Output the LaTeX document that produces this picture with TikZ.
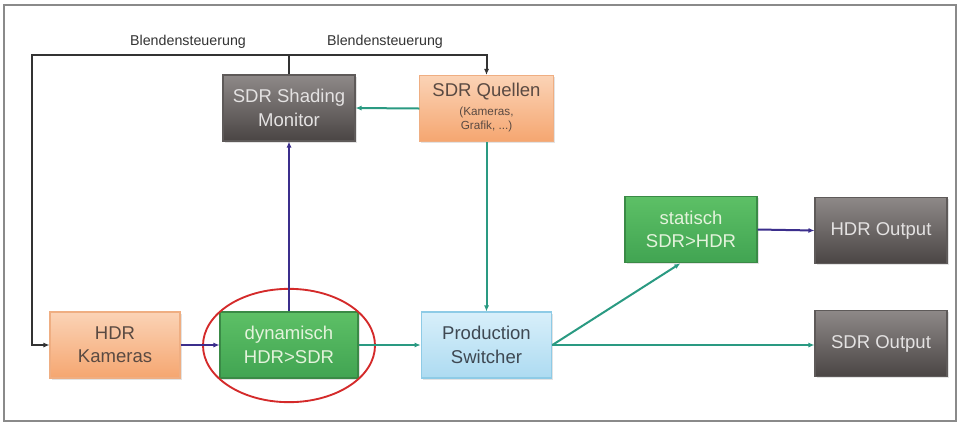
\documentclass[tikz,border=0pt]{standalone}
\usepackage{fontspec}
\setmainfont{Liberation Sans}
\usetikzlibrary{arrows.meta,shapes.geometric,shadows}

\definecolor{flowteal}{HTML}{2A9A82}
\definecolor{flowpurple}{HTML}{3B2E8C}
\definecolor{ctrlgray}{HTML}{333333}
\definecolor{framegray}{HTML}{8A8A8A}
\definecolor{ringred}{HTML}{D42A2A}
\definecolor{orangetop}{HTML}{FBD3B6}
\definecolor{orangebot}{HTML}{F5A670}
\definecolor{orangeedge}{HTML}{EFAE82}
\definecolor{orangetext}{HTML}{5A4A42}
\definecolor{graytop}{HTML}{8E8988}
\definecolor{graybot}{HTML}{4A4544}
\definecolor{grayedge}{HTML}{5E5A59}
\definecolor{graytext}{HTML}{E4E2E2}
\definecolor{greentop}{HTML}{5DC066}
\definecolor{greenbot}{HTML}{41A452}
\definecolor{greenedge}{HTML}{3A8A46}
\definecolor{greentext}{HTML}{E4F3DC}
\definecolor{bluetop}{HTML}{D8EFFA}
\definecolor{bluebot}{HTML}{ADDBF1}
\definecolor{blueedge}{HTML}{8ECBE6}
\definecolor{bluetext}{HTML}{3E4852}

\newcommand{\subfont}{\fontsize{8.8}{10.5}\selectfont}

\tikzset{
  box/.style={rectangle, inner sep=0pt, align=center, line width=0.8pt,
    minimum width=99pt, minimum height=49.5pt,
    drop shadow={opacity=0.22, shadow xshift=1.2pt, shadow yshift=-1.2pt},
    font=\fontsize{13.9}{17.5}\selectfont},
  orangebox/.style={box, draw=orangeedge, top color=orangetop,
    bottom color=orangebot, text=orangetext},
  graybox/.style={box, draw=grayedge, top color=graytop, bottom color=graybot,
    text=graytext},
  greenbox/.style={box, draw=greenedge, top color=greentop,
    bottom color=greenbot, text=greentext},
  bluebox/.style={box, draw=blueedge, top color=bluetop,
    bottom color=bluebot, text=bluetext},
  arr/.style={-{Latex[length=4.5pt,width=3.8pt]}},
  tealline/.style={draw=flowteal, line width=1.5pt},
  purpline/.style={draw=flowpurple, line width=1.5pt},
  ctrlline/.style={draw=ctrlgray, line width=1.5pt},
  lbl/.style={font=\fontsize{10.7}{12}\selectfont, text=black!80}
}

\begin{document}
\begin{tikzpicture}[x=0.75pt,y=-0.75pt]
  % canvas and frame
  \useasboundingbox (0,0) rectangle (960,426);
  \fill[white] (0,0) rectangle (960,426);
  \draw[framegray, line width=0.8pt] (4,5) rectangle (956,421);

  % boxes
  \node[graybox] (mon) at (289,108) {SDR Shading\\Monitor};
  \node[orangebox, minimum width=100pt] (quel) at (486.5,108.5)
    {SDR Quellen\\[-3pt]{\subfont\begin{tabular}[t]{@{}c@{}}(Kameras,\\Grafik, ...)\end{tabular}}};
  \node[orangebox, minimum width=97.5pt] (hdrk) at (115,345) {HDR\\Kameras};
  \node[greenbox, minimum width=103.5pt] (dyn) at (289,345) {dynamisch\\HDR>SDR};
  \node[bluebox, minimum width=98pt] (prod) at (486.5,345) {Production\\Switcher};
  \node[greenbox, minimum height=50pt] (stat) at (691,229.5) {statisch\\SDR>HDR};
  \node[graybox, minimum height=50pt] (hout) at (881,230.5) {HDR Output};
  \node[graybox, minimum height=50pt] (sout) at (881,343.5) {SDR Output};

  % highlight ring
  \node[ellipse, draw=ringred, line width=1.4pt, minimum width=129pt,
    minimum height=85pt, inner sep=0pt] (ring) at (289,345.5) {};

  % aperture control lines
  \coordinate (tl) at (32,55);
  \draw[ctrlline, arr] (mon.north) |- (tl) |- (hdrk.west);
  \draw[ctrlline, arr] (tl) -| (quel.north);
  \node[lbl] (bl1) at (188,42) {Blendensteuerung};
  \node[lbl] (bl2) at (385,42) {Blendensteuerung};

  % signal flow
  \draw[tealline, arr] (quel.west) -- (mon.east);
  \draw[tealline, arr] (quel.south) -- (prod.north);
  \draw[purpline, arr] (hdrk.east) -- (dyn.west);
  \draw[purpline, arr] (dyn.north) -- (mon.south);
  \draw[tealline, arr] (dyn.east) -- (prod.west);
  \draw[tealline, arr] (prod.east) -- ([xshift=-8pt]stat.south);
  \draw[tealline, arr] (prod.east) -- (prod.east -| sout.west);
  \draw[purpline, arr] (stat.east) -- (hout.west);
\end{tikzpicture}
\end{document}
